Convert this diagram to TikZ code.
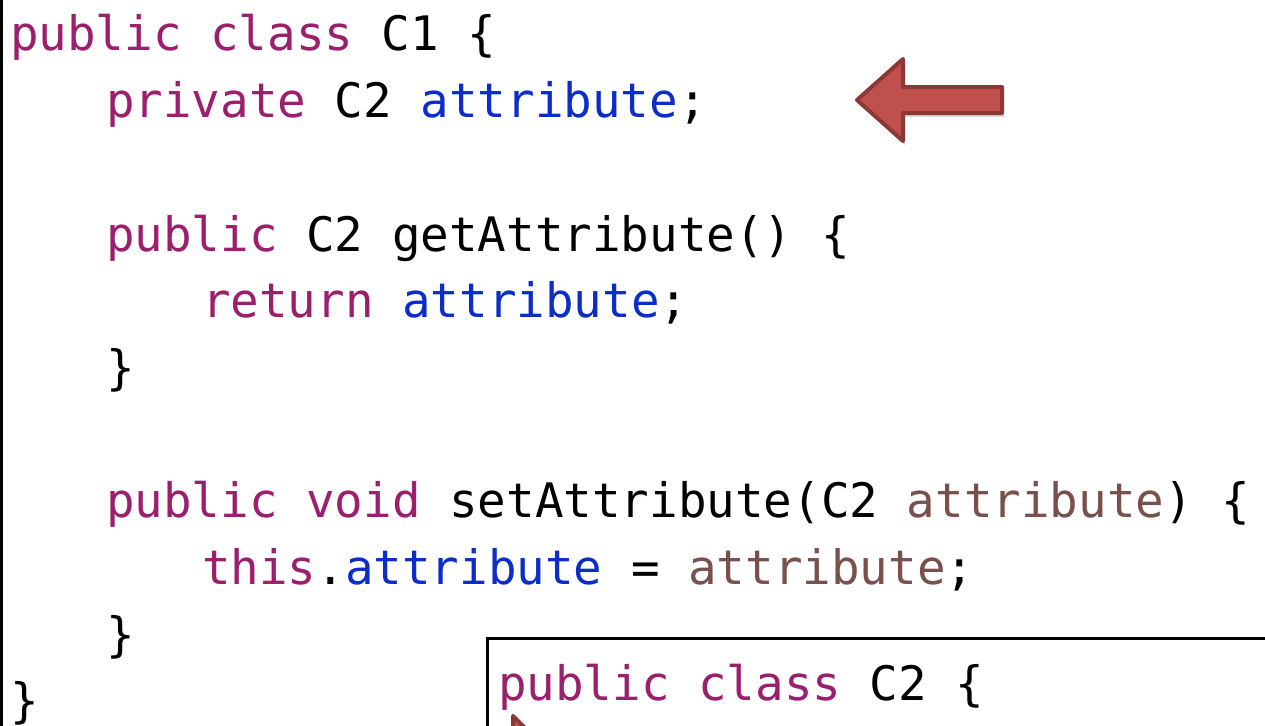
\documentclass[tikz,border=0pt]{standalone}
\usepackage{fontspec}
\setmonofont{DejaVu Sans Mono}
\usetikzlibrary{shadows}
\definecolor{kw}{HTML}{9B1F6D}
\definecolor{iv}{HTML}{0C2DC8}
\definecolor{pa}{HTML}{7A504C}
\definecolor{arrfill}{HTML}{C0504D}
\definecolor{arrline}{HTML}{8C3836}
\newcommand\codefont{\fontsize{47.5}{57}\selectfont\ttfamily}
\begin{document}
\begin{tikzpicture}[x=1pt,y=1pt,
  code/.style={anchor=base west, inner sep=0pt, font=\codefont},
  bigarrow/.style={fill=arrfill, draw=arrline, line width=4pt, line join=round,
    drop shadow={opacity=0.3, shadow xshift=2pt, shadow yshift=-4pt}},
  frame/.style={draw=black, line width=3pt}]
\useasboundingbox (0,0) rectangle (1265,-725);
\clip (0,0) rectangle (1265,-725);
\fill[white] (0,0) rectangle (1265,-725);
\draw[frame] (1.5,10) -- (1.5,-735);

\node[code] (l1) at (10,-51) {\textcolor{kw}{public class} C1 \{};
\node[code] (l2) at (106,-117) {\textcolor{kw}{private} C2 \textcolor{iv}{attribute};};
\node[code] (l4) at (106,-251) {\textcolor{kw}{public} C2 getAttribute() \{};
\node[code] (l5) at (202,-317) {\textcolor{kw}{return} \textcolor{iv}{attribute};};
\node[code] (l6) at (106,-384) {\}};
\node[code] (l8) at (106,-517) {\textcolor{kw}{public void} setAttribute(C2 \textcolor{pa}{attribute}) \{};
\node[code] (l9) at (202,-584) {\textcolor{kw}{this}.\textcolor{iv}{attribute} = \textcolor{pa}{attribute};};
\node[code] (l10) at (106,-651) {\}};
\node[code] (l11) at (10,-717) {\}};

\path[bigarrow] (857,-100) -- (903,-59) -- (903,-87) -- (1002,-87) -- (1002,-113) -- (903,-113) -- (903,-141) -- cycle;

\draw[frame, fill=white] (487,-638) rectangle (1300,-800);
\node[code] (c2) at (498,-700) {\textcolor{kw}{public class} C2 \{};
\path[bigarrow] (513,-716) -- (543,-746) -- (513,-776) -- cycle;
\end{tikzpicture}
\end{document}
